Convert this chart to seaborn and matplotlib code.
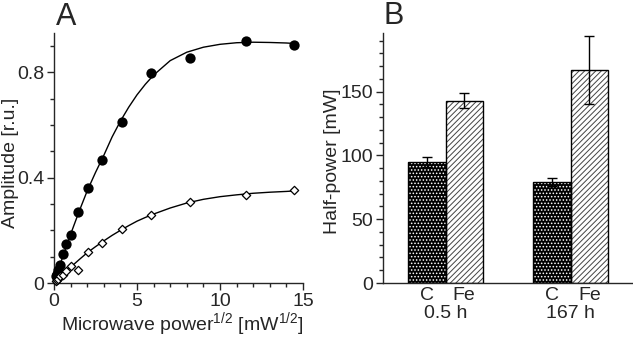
import matplotlib
matplotlib.use("Agg")
import matplotlib.pyplot as plt
from matplotlib.patches import Rectangle
from matplotlib.ticker import MultipleLocator, FuncFormatter
import pandas as pd
import seaborn as sns

# panel A: amplitude vs sqrt(microwave power)
sqrt_power = [0.13, 0.18, 0.26, 0.37, 0.52, 0.73, 1.03, 1.46, 2.06, 2.91, 4.12, 5.82, 8.17, 11.55, 14.46]
amp_filled = [0.025, 0.035, 0.05, 0.07, 0.11, 0.147, 0.184, 0.268, 0.362, 0.468, 0.611, 0.799, 0.854, 0.918, 0.905]
amp_open = [0.008, 0.012, 0.017, 0.025, 0.03, 0.045, 0.066, 0.049, 0.117, 0.153, 0.204, 0.258, 0.309, 0.335, 0.355]

# fitted curves
fit_x = [0, 0.5, 1, 1.5, 2, 2.5, 3, 3.5, 4, 4.5, 5, 5.5, 6, 7, 8, 9, 10, 11, 12, 13, 14, 14.5]
fit_filled = [0, 0.095, 0.185, 0.27, 0.35, 0.42, 0.485, 0.555, 0.615, 0.668, 0.715, 0.755, 0.79, 0.845, 0.877, 0.896, 0.907, 0.913, 0.915, 0.914, 0.912, 0.91]
fit_open = [0, 0.031, 0.06, 0.088, 0.115, 0.138, 0.16, 0.181, 0.2, 0.218, 0.235, 0.249, 0.262, 0.285, 0.304, 0.318, 0.328, 0.335, 0.341, 0.345, 0.348, 0.35]

# panel B: half-power
times = ["0.5 h", "0.5 h", "167 h", "167 h"]
samples = ["C", "Fe", "C", "Fe"]
half_power = [95, 143, 79, 167]
half_err = [4, 6, 3, 27]

FS = 14

sns.set_theme(style="ticks")
plt.rcParams["font.family"] = ["Liberation Sans", "DejaVu Sans"]
plt.rcParams["hatch.linewidth"] = 0.7
plt.rcParams["axes.linewidth"] = 1.0
plt.rcParams["mathtext.default"] = "regular"

fig = plt.figure(figsize=(6.33, 3.38), dpi=100)
axA = fig.add_axes([54/633, 55/338, 249/633, 250/338])
axB = fig.add_axes([383/633, 55/338, 250/633, 250/338])

# ---- A ----
sns.lineplot(x=fit_x, y=fit_filled, ax=axA, color="black", linewidth=1.0)
sns.lineplot(x=fit_x, y=fit_open, ax=axA, color="black", linewidth=1.0)
sns.scatterplot(x=sqrt_power, y=amp_filled, ax=axA, color="black", s=55,
                marker="o", edgecolor="black", linewidth=0, zorder=3, clip_on=False)
sns.scatterplot(x=sqrt_power, y=amp_open, ax=axA, color="white", s=18,
                marker="D", edgecolor="black", linewidth=0.9, zorder=3, clip_on=False)
axA.set_xlim(0, 15)
axA.set_ylim(0, 0.95)
axA.xaxis.set_major_locator(MultipleLocator(5))
axA.xaxis.set_minor_locator(MultipleLocator(1))
axA.yaxis.set_major_locator(MultipleLocator(0.4))
axA.yaxis.set_minor_locator(MultipleLocator(0.1))
axA.yaxis.set_major_formatter(FuncFormatter(lambda v, p: "0" if abs(v) < 1e-9 else "%g" % v))
axA.tick_params(which="major", length=5, width=1, labelsize=FS, pad=2)
axA.tick_params(which="minor", length=3, width=1)
axA.set_xlabel("Microwave power$^{1/2}$ [mW$^{1/2}$]", fontsize=FS)
axA.xaxis.label.set_va("center")
axA.xaxis.set_label_coords(0.514, -0.163)
axA.set_ylabel("Amplitude [r.u.]", fontsize=FS)
axA.yaxis.label.set_va("center")
axA.yaxis.set_label_coords(-0.175, 0.48)
sns.despine(ax=axA)
fig.text(56/633, 1 - 17/338, "A", fontsize=22, va="center", ha="left")

# ---- B ----
df = pd.DataFrame({"time": times, "sample": samples, "value": half_power, "err": half_err})
sns.barplot(data=df, x="time", y="value", hue="sample", ax=axB, width=0.6,
            errorbar=None, legend=False, linewidth=0)
styles = {"C": ("black", "white", "....."), "Fe": ("white", "#444444", "//////")}
for cont, samp in zip(axB.containers, ["C", "Fe"]):
    fc, hc, hatch = styles[samp]
    sub = df[df["sample"] == samp]
    for bar, err in zip(cont, sub["err"]):
        bar.set_facecolor(fc)
        bar.set_edgecolor(hc)
        bar.set_hatch(hatch)
        bar.set_linewidth(0)
        axB.add_patch(Rectangle(bar.get_xy(), bar.get_width(), bar.get_height(),
                                fill=False, edgecolor="black", linewidth=1, zorder=3))
        cx = bar.get_x() + bar.get_width() / 2
        axB.errorbar(cx, bar.get_height(), yerr=err, color="black", capsize=3.5,
                     elinewidth=1, capthick=1, zorder=4)
        axB.text(cx, -0.05, samp, transform=axB.get_xaxis_transform(),
                 ha="center", va="center", fontsize=FS)
for i, t in enumerate(["0.5 h", "167 h"]):
    axB.text(i, -0.122, t, transform=axB.get_xaxis_transform(),
             ha="center", va="center", fontsize=FS)
axB.set_xlim(-0.5, 1.5)
axB.set_ylim(0, 196)
axB.set_xticks([])
axB.yaxis.set_major_locator(MultipleLocator(50))
axB.yaxis.set_minor_locator(MultipleLocator(10))
axB.tick_params(which="major", length=5, width=1, labelsize=FS, pad=2)
axB.tick_params(which="minor", length=3, width=1)
axB.set_xlabel("")
axB.set_ylabel("Half-power [mW]", fontsize=FS)
axB.yaxis.label.set_va("center")
axB.yaxis.set_label_coords(-0.202, 0.485)
sns.despine(ax=axB)
fig.text(383/633, 1 - 16/338, "B", fontsize=22, va="center", ha="left")

fig.savefig("out.png", dpi=100)
